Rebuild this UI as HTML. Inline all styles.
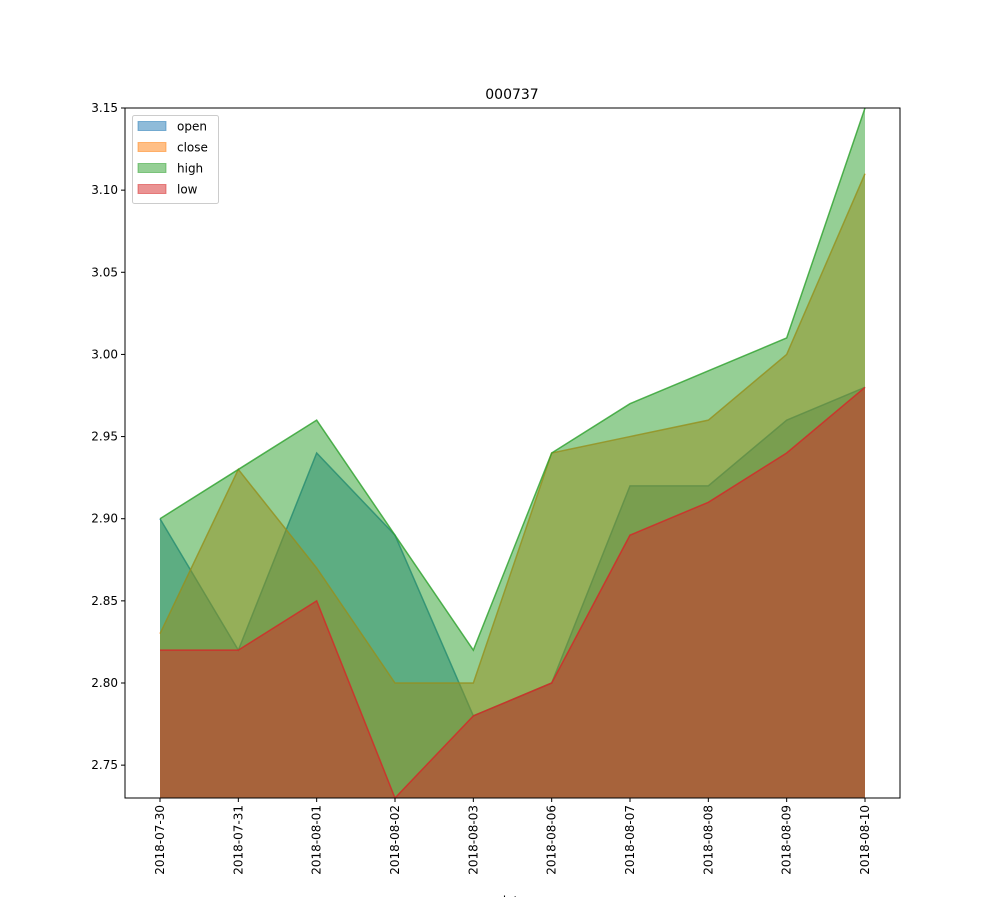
<!DOCTYPE html>
<html><head><meta charset="utf-8"><style>
body{margin:0;background:#fff;}
svg text{font-family:"DejaVu Sans","Liberation Sans",sans-serif;fill:#000;}
</style></head><body>
<svg id="chart" width="1000" height="897" viewBox="0 0 1000 897" xmlns="http://www.w3.org/2000/svg">
<rect width="1000" height="897" fill="#fff"/>
<text x="512" y="99" font-size="14" text-anchor="middle">000737</text>
<g id="plot"></g>
<rect x="125" y="108" width="775" height="690" fill="none" stroke="#000" stroke-width="1"/>
<g id="yticks"></g><g id="xticks"></g>
<text x="512" y="905" font-size="12" text-anchor="middle">date</text>
<g>
<rect x="132.5" y="115.5" width="86" height="88" rx="2" fill="#fff" fill-opacity="0.8" stroke="#ccc"/>
<g id="legend"></g>
</g>
</svg>
<script>
const categories=["2018-07-30","2018-07-31","2018-08-01","2018-08-02","2018-08-03","2018-08-06","2018-08-07","2018-08-08","2018-08-09","2018-08-10"];
const openVals=[2.90,2.82,2.94,2.89,2.78,2.80,2.92,2.92,2.96,2.98];
const closeVals=[2.83,2.93,2.87,2.80,2.80,2.94,2.95,2.96,3.00,3.11];
const highVals=[2.90,2.93,2.96,2.89,2.82,2.94,2.97,2.99,3.01,3.15];
const lowVals=[2.82,2.82,2.85,2.73,2.78,2.80,2.89,2.91,2.94,2.98];
const yTicks=[2.75,2.80,2.85,2.90,2.95,3.00,3.05,3.10,3.15];
const seriesNames=["open","close","high","low"];
const colors=["#1f77b4","#ff7f0e","#2ca02c","#d62728"];
const NS="http://www.w3.org/2000/svg";
const L=125,R=900,T=108,B=798,yMin=2.73,yMax=3.15;
const x=i=>160+i*(865-160)/(categories.length-1);
const y=v=>B-(v-yMin)/(yMax-yMin)*(B-T);
function mk(tag,attrs,parent){const e=document.createElementNS(NS,tag);for(const k in attrs)e.setAttribute(k,attrs[k]);parent.appendChild(e);return e;}
const plot=document.getElementById('plot');
const all=[openVals,closeVals,highVals,lowVals];
all.forEach((vals,s)=>{
  let pts=vals.map((v,i)=>x(i)+","+y(v)).join(" ");
  const poly=mk('polygon',{points:x(0)+","+B+" "+pts+" "+x(vals.length-1)+","+B,fill:colors[s],'fill-opacity':0.5},plot);
  
  
  const line=mk('polyline',{points:pts,fill:'none',stroke:colors[s],'stroke-opacity':0.8,'stroke-width':1.5},plot);
  
  
});
const yt=document.getElementById('yticks');
yTicks.forEach(v=>{
  mk('line',{x1:L-4,x2:L,y1:y(v),y2:y(v),stroke:'#000'},yt);
  const t=mk('text',{x:L-7,y:y(v)+4,'font-size':12,'text-anchor':'end'},yt);
  t.textContent=v.toFixed(2);
  
  
});
const xt=document.getElementById('xticks');
categories.forEach((c,i)=>{
  mk('line',{x1:x(i),x2:x(i),y1:B,y2:B+4,stroke:'#000'},xt);
  const t=mk('text',{x:0,y:0,'font-size':12,'text-anchor':'end',transform:`translate(${x(i)+4},${B+7}) rotate(-90)`},xt);
  t.textContent=c;
  
  
});
const lg=document.getElementById('legend');
seriesNames.forEach((n,s)=>{
  const cy=126+s*21;
  const r=mk('rect',{x:138,y:cy-4.5,width:28,height:9,fill:colors[s],'fill-opacity':0.5,stroke:colors[s],'stroke-opacity':0.5},lg);
  
  
  const t=mk('text',{x:177,y:cy+4.5,'font-size':12},lg);
  t.textContent=n;
  
  
});
</script>
</body></html>
